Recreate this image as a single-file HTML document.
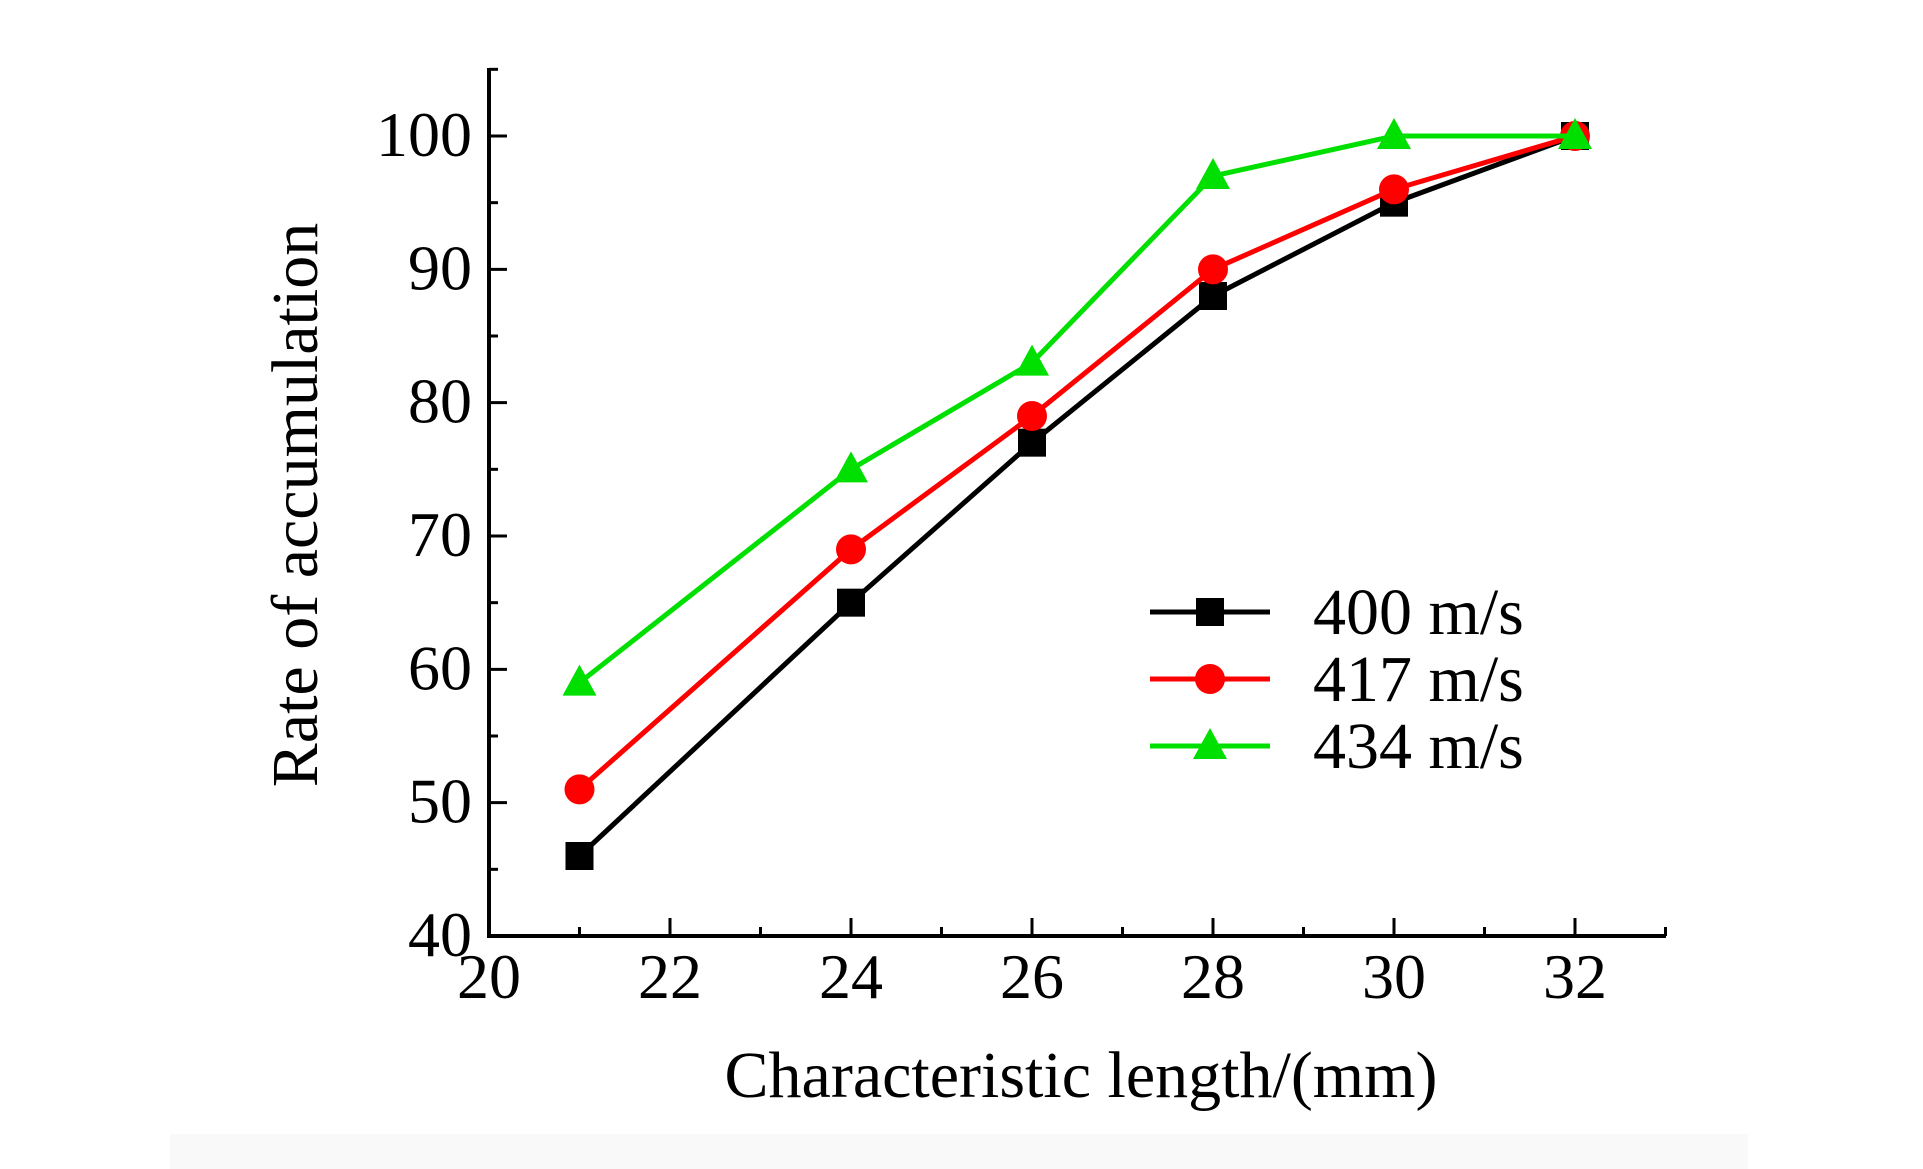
<!DOCTYPE html>
<html><head><meta charset="utf-8"><style>
body{margin:0;background:#fff}
svg{display:block}
text{font-family:"Liberation Serif",serif;fill:#000}
</style></head><body>
<svg id="chart" width="1923" height="1169" viewBox="0 0 1923 1169" xmlns="http://www.w3.org/2000/svg">
<rect x="170" y="1134" width="1578" height="35" fill="#f9f9f9"/>
<g id="axes"></g>
<g id="series"></g>
<g id="legend"></g>
</svg>
<script>
const xValues=[21,24,26,28,30,32];
const s400=[46,65,77,88,95,100];
const s417=[51,69,79,90,96,100];
const s434=[59,75,83,97,100,100];
const xTicks=[20,22,24,26,28,30,32];
const yTicks=[40,50,60,70,80,90,100];
const seriesNames=['400 m/s','417 m/s','434 m/s'];
const NS='http://www.w3.org/2000/svg';
const X0=489,X1=1575,Y0=936,Y1=136;
const xs=v=>X0+(v-20)/12*(X1-X0);
const ys=v=>Y0-(v-40)/60*(Y0-Y1);
function mk(t,a,p){const e=document.createElementNS(NS,t);for(const k in a)e.setAttribute(k,a[k]);p.appendChild(e);return e;}
const ax=document.getElementById('axes');
let e=mk('line',{x1:X0,y1:68,x2:X0,y2:Y0+2,stroke:'#000','stroke-width':4},ax);


e=mk('line',{x1:X0-2,y1:Y0,x2:1666,y2:Y0,stroke:'#000','stroke-width':4},ax);


for(let v=20;v<=33;v++){const maj=v%2==0;const x=xs(v);
 e=mk('line',{x1:x,y1:Y0,x2:x,y2:Y0-(maj?18:9),stroke:'#000','stroke-width':3},ax);
 
 }
for(let v=40;v<=105;v+=5){const maj=v%10==0;const y=ys(v);
 e=mk('line',{x1:X0,y1:y,x2:X0+(maj?18:9),y2:y,stroke:'#000','stroke-width':3},ax);
 
 }
xTicks.forEach(v=>{e=mk('text',{x:xs(v),y:998,'font-size':64,'text-anchor':'middle'},ax);e.textContent=v;
 
 });
yTicks.forEach(v=>{e=mk('text',{x:472,y:ys(v)+20,'font-size':64,'text-anchor':'end'},ax);e.textContent=v;
 
 });
e=mk('text',{x:1081,y:1097,'font-size':66,'text-anchor':'middle'},ax);e.textContent='Characteristic length/(mm)';


e=mk('text',{x:0,y:0,'font-size':66,'text-anchor':'middle',transform:'translate(317,505) rotate(-90)'},ax);e.textContent='Rate of accumulation';


const colors=['#000000','#ff0000','#00e000'];
const shapes=['square','circle','triangle'];
function marker(g,shape,x,y,c){let m;
 if(shape=='square')m=mk('rect',{x:x-14,y:y-14,width:28,height:28,fill:c},g);
 else if(shape=='circle')m=mk('circle',{cx:x,cy:y,r:15,fill:c},g);
 else m=mk('polygon',{points:`${x},${y-18} ${x+17},${y+13} ${x-17},${y+13}`,fill:c},g);
 return m;}
const sg=document.getElementById('series');
[s400,s417,s434].forEach((arr,i)=>{
 const g=mk('g',{},sg);
 
 
 const l=mk('polyline',{points:arr.map((v,j)=>xs(xValues[j])+','+ys(v)).join(' '),fill:'none',stroke:colors[i],'stroke-width':5},g);
 
 
 arr.forEach((v,j)=>{const m=marker(g,shapes[i],xs(xValues[j]),ys(v),colors[i]);
  
  });
});
const lg=document.getElementById('legend');


seriesNames.forEach((n,i)=>{const y=612+i*67;
 const g=mk('g',{},lg);
 
 
 mk('line',{x1:1150,y1:y,x2:1270,y2:y,stroke:colors[i],'stroke-width':5},g);
 marker(g,shapes[i],1210,y,colors[i]);
 const t=mk('text',{x:1313,y:y+22,'font-size':66},g);t.textContent=n;
});
</script>
</body></html>
